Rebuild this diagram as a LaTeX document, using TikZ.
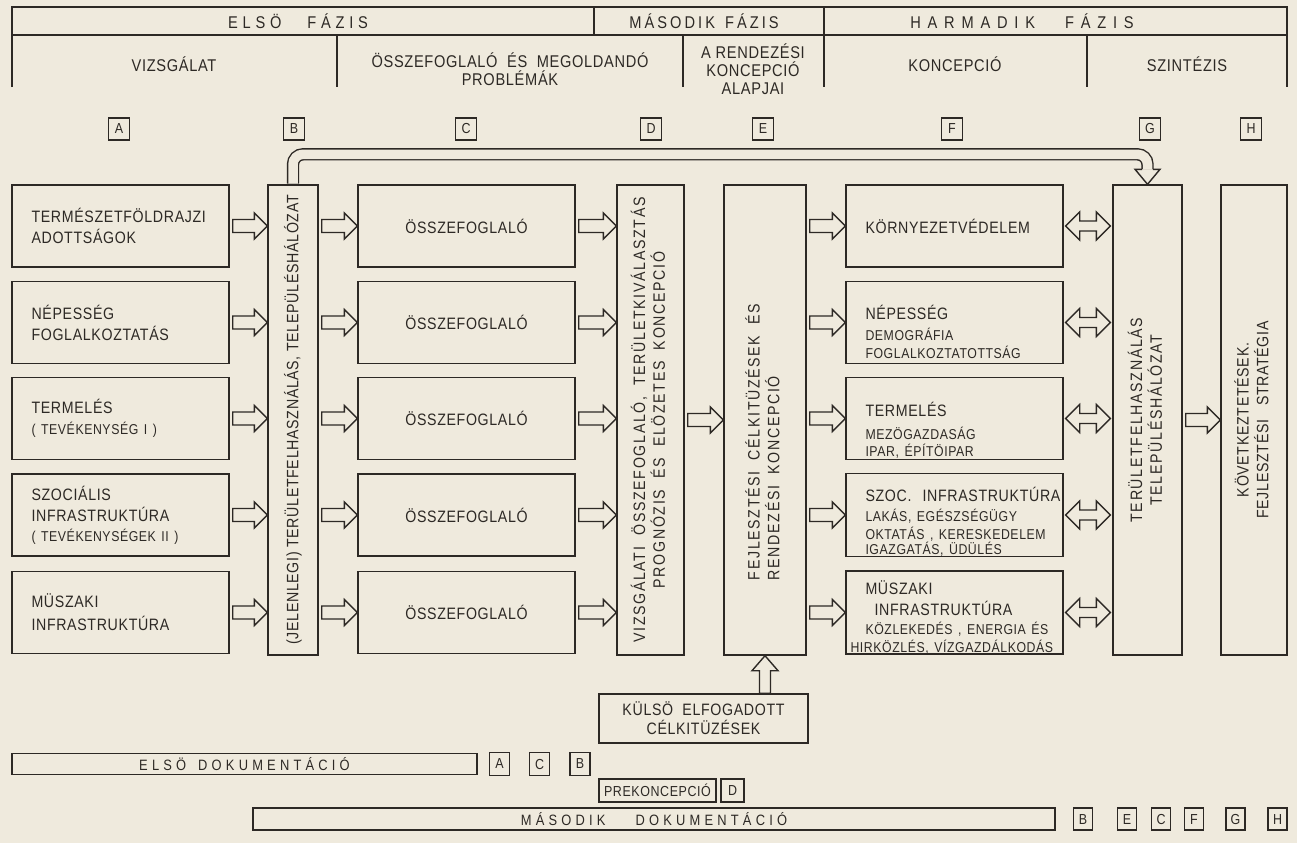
\documentclass[tikz,border=0pt]{standalone}
\usepackage{fontspec}
\usepackage{graphicx}
\setmainfont{Liberation Sans}[LetterSpace=4, FakeStretch=0.86]
\usetikzlibrary{calc}

\definecolor{paper}{RGB}{239,234,221}
\definecolor{ink}{RGB}{45,41,37}

\newcommand{\fmain}{\fontsize{16.5}{21}\selectfont}
\newcommand{\fsub}{\fontsize{14.3}{17}\selectfont}
\newcommand{\fhead}{\fontsize{17}{18}\selectfont}
\newcommand{\frot}{\fontsize{16.5}{18}\selectfont}
\newcommand{\ftag}{\fontsize{14.5}{14}\selectfont}
\newcommand{\fdoc}{\fontsize{15}{16}\selectfont}
\newcommand{\spaced}{\addfontfeature{LetterSpace=28}}
\newcommand{\wide}{\addfontfeature{LetterSpace=10}}
\newcommand{\down}[1]{\rule{0pt}{#1pt}}

% ureges tomb nyilak
\newcommand{\arrR}[2]{%
  \draw[blockarr] let \p1=(#1), \p2=(#2) in
    (\x1+3pt,\y1+6.5pt) -- (\x2-13pt,\y1+6.5pt) -- (\x2-13pt,\y1+13pt) -- (\x2,\y1)
    -- (\x2-13pt,\y1-13pt) -- (\x2-13pt,\y1-6.5pt) -- (\x1+3pt,\y1-6.5pt) -- cycle;}
\newcommand{\arrLR}[2]{%
  \draw[blockarr] let \p1=(#1), \p2=(#2) in
    (\x1+2pt,\y1) -- (\x1+16pt,\y1+14pt) -- (\x1+16pt,\y1+5pt) -- (\x2-16pt,\y1+5pt)
    -- (\x2-16pt,\y1+14pt) -- (\x2-2pt,\y1) -- (\x2-16pt,\y1-14pt) -- (\x2-16pt,\y1-5pt)
    -- (\x1+16pt,\y1-5pt) -- (\x1+16pt,\y1-14pt) -- cycle;}
\newcommand{\arrU}[2]{%
  \draw[blockarr] let \p1=(#1), \p2=(#2) in
    (\x1-5.5pt,\y1) -- (\x1-5.5pt,\y2-15pt) -- (\x1-13pt,\y2-15pt) -- (\x1,\y2)
    -- (\x1+13pt,\y2-15pt) -- (\x1+5.5pt,\y2-15pt) -- (\x1+5.5pt,\y1) -- cycle;}

\begin{document}
\begin{tikzpicture}[x=1pt, y=-1pt, line width=1.4pt,
    every node/.style={text=ink, font=\fmain},
    sumbox/.style={draw=ink, minimum width=217, minimum height=82, inner sep=0pt},
    txtbox/.style={sumbox, text width=178, align=left},
    colbox/.style={draw=ink, minimum height=470, inner sep=0pt},
    tagbox/.style={draw=ink, minimum width=21, minimum height=22, inner sep=0pt, font=\ftag},
    docbar/.style={draw=ink, minimum height=21, inner sep=0pt, font=\fdoc},
    blockarr/.style={draw=ink, fill=paper, line join=miter},
    bentarr/.style={draw=ink, double=paper, double distance=9.5pt, rounded corners=10pt}]

    \fill[paper] (0,0) rectangle (1297,843);
    \useasboundingbox (0,0) rectangle (1297,843);

    % Fejlec
    \draw[ink] (12,87) -- (12,7) -- (1287,7) -- (1287,87);
    \draw[ink] (12,35) -- (1287,35);
    \draw[ink] (594,7) -- (594,35);
    \draw[ink] (824,7) -- (824,87);
    \foreach \x in {337,683,1087}
        \draw[ink] (\x,35) -- (\x,87);

    \node[font=\fhead] (ph1) at (298,21) {\spaced ELSÖ\hspace{26pt}FÁZIS};
    \node[font=\fhead] (ph2) at (704,21) {\addfontfeature{LetterSpace=18}MÁSODIK\hspace{10pt}FÁZIS};
    \node[font=\fhead] (ph3) at (1022,21) {\addfontfeature{LetterSpace=40}HARMADIK\hspace{30pt}FÁZIS};
    \node[font=\fhead] (hA) at (174,64) {VIZSGÁLAT};
    \node[font=\fhead, align=center] (hC) at (510,69) {ÖSSZEFOGLALÓ\ \ ÉS\ \ MEGOLDANDÓ\\PROBLÉMÁK};
    \node[font=\fhead, align=center] (hE) at (753,69) {A RENDEZÉSI\\KONCEPCIÓ\\ALAPJAI};
    \node[font=\fhead] (hF) at (955,64) {KONCEPCIÓ};
    \node[font=\fhead] (hG) at (1187,64) {SZINTÉZIS};

    \foreach \n/\x in {A/119,B/294,C/466,D/651,E/763,F/952,G/1150,H/1251}
        \node[tagbox] (t\n) at (\x,129) {\n};

    % Vizsgalat
    \node[txtbox] (a1) at (120.5,226) {TERMÉSZETFÖLDRAJZI\\ADOTTSÁGOK};
    \node[txtbox] (a2) at (120.5,322.5) {NÉPESSÉG\\FOGLALKOZTATÁS};
    \node[txtbox] (a3) at (120.5,418.5) {TERMELÉS\\{\fsub ( TEVÉKENYSÉG I )}};
    \node[txtbox] (a4) at (120.5,515) {SZOCIÁLIS\\INFRASTRUKTÚRA\\[-1pt]{\fsub ( TEVÉKENYSÉGEK II )}};
    \node[txtbox] (a5) at (120.5,612.5) {MÜSZAKI\\[2pt]INFRASTRUKTÚRA};

    % Oszlopok
    \node[colbox, minimum width=50] (colB) at (293,420)
        {\rotatebox{90}{\frot (JELENLEGI) TERÜLETFELHASZNÁLÁS, TELEPÜLÉSHÁLÓZAT}};
    \node[colbox, minimum width=67] (colD) at (650.5,420)
        {\rotatebox{90}{\frot\wide\begin{tabular}{@{}c@{}}VIZSGÁLATI\ \ ÖSSZEFOGLALÓ,\ \ TERÜLETKIVÁLASZTÁS\\PROGNÓZIS\ \ ÉS\ \ ELÖZETES\ \ KONCEPCIÓ\end{tabular}}};
    \node[colbox, minimum width=82] (colE) at (765,420)
        {\rotatebox{90}{\frot\wide\begin{tabular}{@{}l@{}}FEJLESZTÉSI\ \ CÉLKITÜZÉSEK\ \ ÉS\\RENDEZÉSI\ \ KONCEPCIÓ\end{tabular}\hspace{44pt}}};
    \node[colbox, minimum width=69] (colG) at (1147.5,420)
        {\rotatebox{90}{\frot\wide\begin{tabular}{@{}c@{}}TERÜLETFELHASZNÁLÁS\\TELEPÜLÉSHÁLÓZAT\end{tabular}}};
    \node[colbox, minimum width=66] (colH) at (1254,420)
        {\rotatebox{90}{\frot\begin{tabular}{@{}c@{}}KÖVETKEZTETÉSEK.\\FEJLESZTÉSI\ \ \ STRATÉGIA\end{tabular}}};

    % Osszefoglalok
    \foreach \i/\y in {1/226,2/322.5,3/418.5,4/515,5/612.5}
        \node[sumbox] (c\i) at (466.5,\y) {ÖSSZEFOGLALÓ};

    % Koncepcio
    \node[txtbox] (f1) at (954.5,226) {KÖRNYEZETVÉDELEM};
    \node[txtbox] (f2) at (954.5,322.5)
        {\down{33}NÉPESSÉG\\{\fsub DEMOGRÁFIA}\\[-3pt]{\fsub FOGLALKOZTATOTTSÁG}};
    \node[txtbox] (f3) at (954.5,418.5)
        {\down{38}TERMELÉS\\[2pt]{\fsub MEZÖGAZDASÁG}\\[-4pt]{\fsub IPAR, ÉPÍTÖIPAR}};
    \node[txtbox] (f4) at (954.5,515)
        {\mbox{\down{28}SZOC.\ \ INFRASTRUKTÚRA}\\[-1pt]{\fsub LAKÁS, EGÉSZSÉGÜGY}\\[-3pt]\mbox{\fsub OKTATÁS , KERESKEDELEM}\\[-6pt]{\fsub IGAZGATÁS, ÜDÜLÉS}};
    \node[txtbox] (f5) at (954.5,612.5)
        {\down{23}MÜSZAKI\\\hspace*{9pt}INFRASTRUKTÚRA\\[-2pt]\mbox{\fsub KÖZLEKEDÉS , ENERGIA ÉS}\\[-3pt]\mbox{\fsub\hspace*{-15pt}HIRKÖZLÉS, VÍZGAZDÁLKODÁS}};

    % Nyilak
    \foreach \i in {1,...,5} {
        \arrR{a\i.east}{colB.west}
        \arrR{colB.east |- c\i.west}{c\i.west}
        \arrR{c\i.east}{colD.west}
        \arrR{colE.east |- f\i.west}{f\i.west}
        \arrLR{f\i.east}{colG.west}
    }
    \arrR{colD.east}{colE.west}
    \arrR{colG.east}{colH.west}

    % Visszacsatolo nyil
    \draw[bentarr] ([yshift=0.7pt]colB.north) -- ([yshift=30pt]colB.north) -| ([yshift=15pt]colG.north);
    \filldraw[blockarr] ([xshift=-5.4pt,yshift=15pt]colG.north) -- ([xshift=-12.5pt,yshift=15pt]colG.north)
        -- (colG.north) -- ([xshift=12.5pt,yshift=15pt]colG.north) -- ([xshift=5.4pt,yshift=15pt]colG.north);

    % Kulso celok
    \node[draw=ink, minimum width=209, minimum height=49, inner sep=0pt, align=center] (kulso) at (703.5,718.5)
        {KÜLSÖ\ \ ELFOGADOTT\\[-2pt]CÉLKITÜZÉSEK};
    \arrU{colE.south |- kulso.north}{colE.south}

    % Dokumentaciok
    \node[docbar, minimum width=465] (doc1) at (244.5,764) {\spaced ELSÖ\hspace{12pt}DOKUMENTÁCIÓ};
    \foreach \n/\x in {A/499.5,C/539.5,B/580}
        \node[tagbox, minimum width=20, minimum height=23] (e\n) at (\x,764) {\n};
    \node[draw=ink, minimum width=117, minimum height=23, inner sep=0pt, font=\ftag] (prek) at (657.5,790.5) {PREKONCEPCIÓ};
    \node[tagbox, minimum width=23, minimum height=23] (pD) at (732.5,790.5) {D};
    \node[docbar, minimum width=802, minimum height=22] (doc2) at (654,819) {\spaced MÁSODIK\hspace{30pt}DOKUMENTÁCIÓ};
    \foreach \n/\x in {B/1083,E/1127,C/1161,F/1194,G/1235.5,H/1277.5}
        \node[tagbox, minimum width=19] (m\n) at (\x,819) {\n};
\end{tikzpicture}
\end{document}
